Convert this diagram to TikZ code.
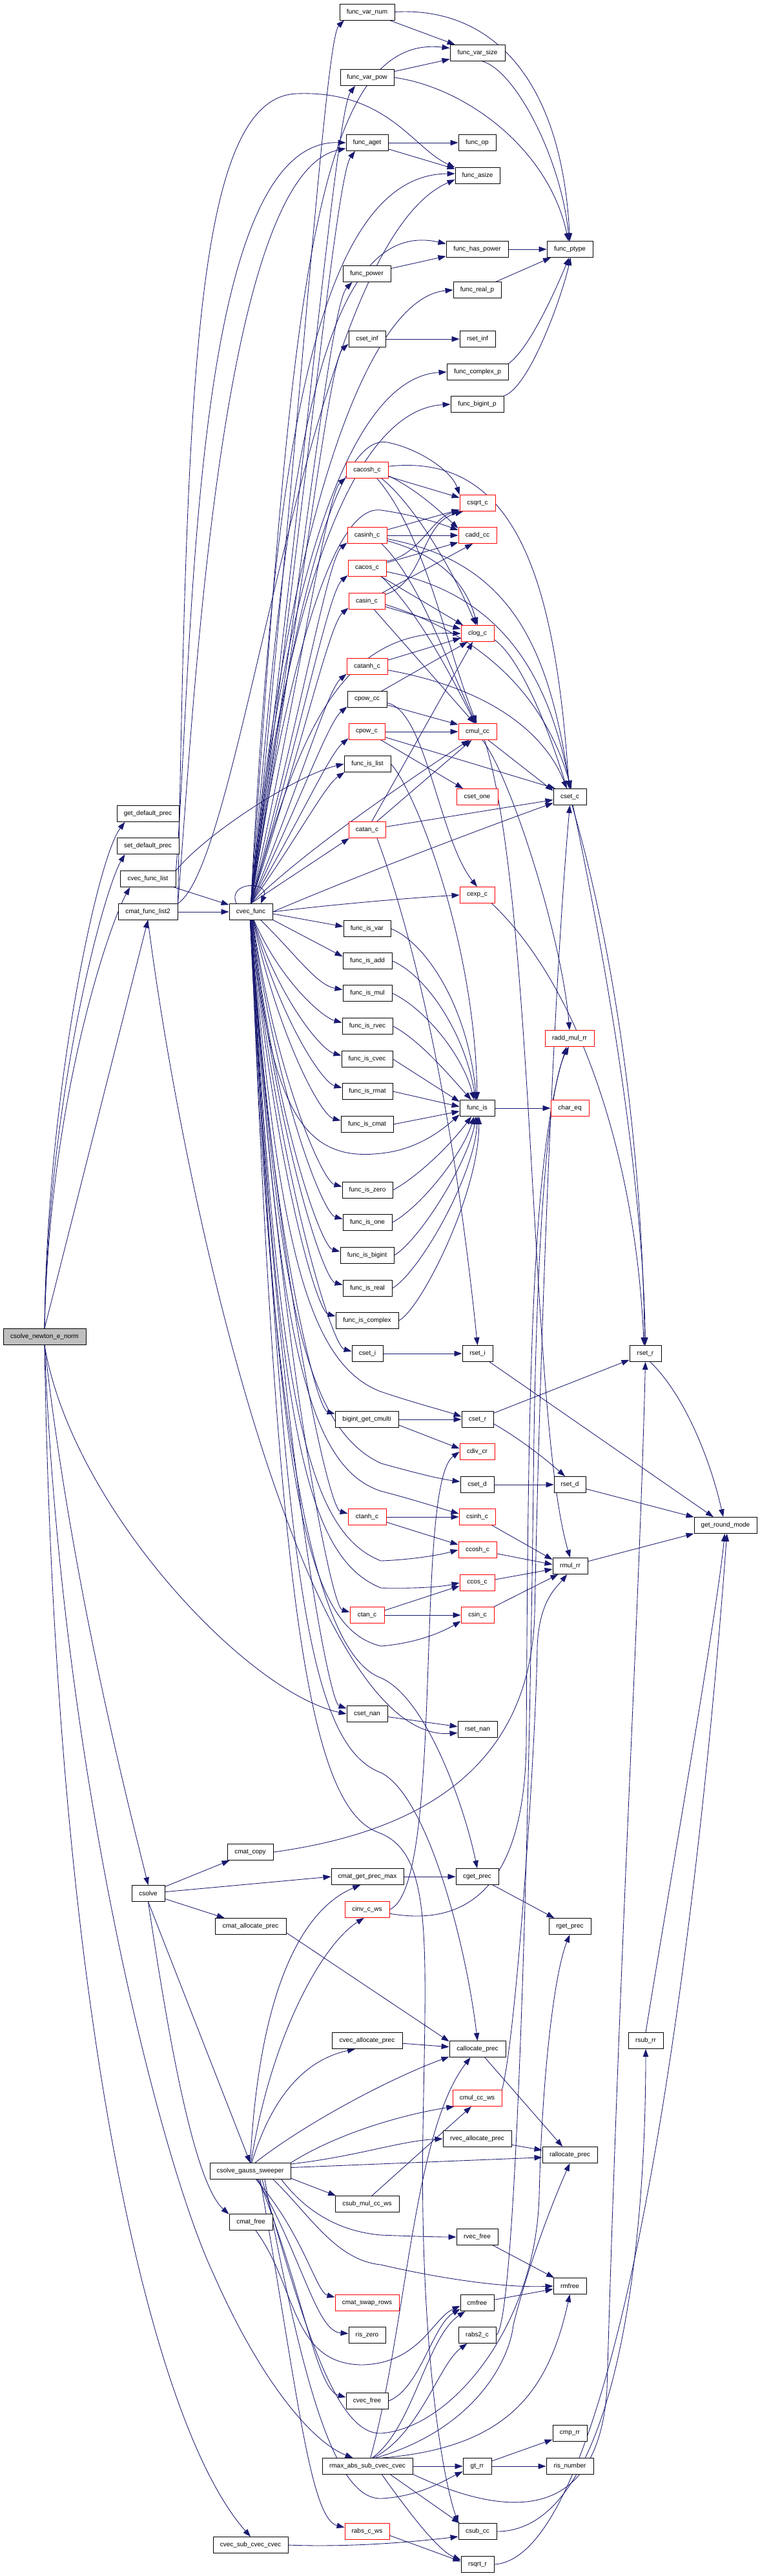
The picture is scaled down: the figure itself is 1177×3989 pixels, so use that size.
\documentclass[tikz,border=0pt]{standalone}
\usepackage{fontspec}
\setmainfont{Liberation Sans}
\usetikzlibrary{arrows.meta,calc}
\definecolor{eb}{HTML}{191970}
\definecolor{rootg}{HTML}{BFBFBF}
\pgfdeclarelayer{bg}
\pgfsetlayers{bg,main}
\newcommand\nn[6]{\node[#1,minimum width=#5pt] (#2) at (#3,#4) {#6};}
\newcommand\fan[3]{\draw[e] (#1) .. controls ($(#1)!0.5!(#2)$) and ($(#2)+#3$) .. (#2);}
\newcommand\dfan[4]{\draw[e] (#1) .. controls ($(#1)!0.6!(#2)+#4$) and ($(#2)+#3$) .. (#2);}
\begin{document}
\begin{tikzpicture}[x=1pt,y=-1pt,
  nb/.style={draw=black,line width=0.9pt,fill=white,minimum height=25pt,inner sep=0pt,font=\fontsize{10}{12}\selectfont},
  nr/.style={nb,draw=red},
  ng/.style={nb,fill=rootg},
  e/.style={draw=eb,line width=0.85pt,-{Triangle[length=12pt,width=8.5pt]}}]
\path[use as bounding box] (0,0) rectangle (1177,3989);
% ---- nodes
\nn{ng}{cn}{69}{2070}{128}{csolve\_newton\_e\_norm}
\nn{nb}{gdp}{229}{1260}{96}{get\_default\_prec}
\nn{nb}{sdp}{229}{1310}{96}{set\_default\_prec}
\nn{nb}{cfl}{229}{1361}{86}{cvec\_func\_list}
\nn{nb}{cml}{229}{1412}{92}{cmat\_func\_list2}
\nn{nb}{csolve}{229.5}{2932}{51}{csolve}
\nn{nb}{cf}{388.5}{1412}{67}{cvec\_func}
\nn{nb}{cmcopy}{387.5}{2868}{71}{cmat\_copy}
\nn{nb}{cmalloc}{388}{2983}{110}{cmat\_allocate\_prec}
\nn{nb}{gs}{387.5}{3362}{125}{csolve\_gauss\_sweeper}
\nn{nb}{cmatfree}{388.5}{3441}{67}{cmat\_free}
\nn{nb}{cvsub}{388}{3941}{116}{cvec\_sub\_cvec\_cvec}
\nn{nb}{fvn}{568.5}{18.5}{85}{func\_var\_num}
\nn{nb}{fvp}{568.5}{120}{83}{func\_var\_pow}
\nn{nb}{faget}{568.5}{221}{65}{func\_aget}
\nn{nb}{fpower}{568}{424}{74}{func\_power}
\nn{nb}{csetinf}{568.5}{525}{57}{cset\_inf}
\nn{nr}{cacosh}{568.5}{728}{65}{cacosh\_c}
\nn{nr}{casinh}{568.5}{829}{61}{casinh\_c}
\nn{nr}{cacos}{568.5}{880}{59}{cacos\_c}
\nn{nr}{casin}{568}{931}{56}{casin\_c}
\nn{nr}{catanh}{568.5}{1032}{63}{catanh\_c}
\nn{nb}{cpowcc}{568.5}{1083}{61}{cpow\_cc}
\nn{nr}{cpowc}{568}{1133}{56}{cpow\_c}
\nn{nb}{fislist}{569}{1183}{72}{func\_is\_list}
\nn{nr}{catan}{568.5}{1285}{57}{catan\_c}
\nn{nb}{fisvar}{568.5}{1438}{73}{func\_is\_var}
\nn{nb}{fisadd}{569}{1488}{76}{func\_is\_add}
\nn{nb}{fismul}{569}{1538}{76}{func\_is\_mul}
\nn{nb}{fisrvec}{569}{1589}{78}{func\_is\_rvec}
\nn{nb}{fiscvec}{568.5}{1640}{79}{func\_is\_cvec}
\nn{nb}{fisrmat}{569}{1690}{78}{func\_is\_rmat}
\nn{nb}{fiscmat}{568.5}{1741}{81}{func\_is\_cmat}
\nn{nb}{fiszero}{569}{1843}{78}{func\_is\_zero}
\nn{nb}{fisone}{569}{1893}{76}{func\_is\_one}
\nn{nb}{fisbigint}{568.5}{1944}{83}{func\_is\_bigint}
\nn{nb}{fisreal}{569}{1995}{76}{func\_is\_real}
\nn{nb}{fiscomplex}{568.5}{2045}{97}{func\_is\_complex}
\nn{nb}{cseti}{569}{2096}{48}{cset\_i}
\nn{nb}{bigint}{568}{2198}{98}{bigint\_get\_cmulti}
\nn{nr}{ctanh}{568.5}{2349}{59}{ctanh\_c}
\nn{nr}{ctan}{568.5}{2501}{53}{ctan\_c}
\nn{nb}{csetnan}{568.5}{2654}{63}{cset\_nan}
\nn{nb}{cmgpm}{569}{2906}{112}{cmat\_get\_prec\_max}
\nn{nr}{cinvws}{568.5}{2957}{69}{cinv\_c\_ws}
\nn{nb}{cvalloc}{568.5}{3160}{109}{cvec\_allocate\_prec}
\nn{nb}{csubmulws}{568.5}{3413}{99}{csub\_mul\_cc\_ws}
\nn{nr}{cmswap}{568.5}{3566}{99}{cmat\_swap\_rows}
\nn{nb}{riszero}{568.5}{3616}{57}{ris\_zero}
\nn{nb}{cvfree}{568.5}{3718}{65}{cvec\_free}
\nn{nb}{rmaxabs}{569}{3819}{140}{rmax\_abs\_sub\_cvec\_cvec}
\nn{nr}{rabscws}{568.5}{3920}{69}{rabs\_c\_ws}
\nn{nb}{fvs}{739.5}{82}{85}{func\_var\_size}
\nn{nb}{fop}{739}{221}{58}{func\_op}
\nn{nb}{fasize}{739.5}{272}{69}{func\_asize}
\nn{nb}{fhaspow}{739}{386}{96}{func\_has\_power}
\nn{nb}{frealp}{739}{449}{74}{func\_real\_p}
\nn{nb}{rsetinf}{739.5}{525}{55}{rset\_inf}
\nn{nb}{fcomplexp}{739.5}{576}{95}{func\_complex\_p}
\nn{nb}{fbigintp}{739}{626}{82}{func\_bigint\_p}
\nn{nr}{csqrt}{739.5}{779}{55}{csqrt\_c}
\nn{nr}{caddcc}{739.5}{829}{59}{cadd\_cc}
\nn{nr}{clog}{739.5}{981}{51}{clog\_c}
\nn{nr}{cmulcc}{739.5}{1133}{59}{cmul\_cc}
\nn{nr}{csetone}{739}{1234}{64}{cset\_one}
\nn{nr}{cexp}{739}{1386}{54}{cexp\_c}
\nn{nb}{fis}{739}{1716}{54}{func\_is}
\nn{nb}{rseti}{739.5}{2096}{47}{rset\_i}
\nn{nb}{csetr}{739.5}{2198}{49}{cset\_r}
\nn{nr}{cdivcr}{739}{2248}{54}{cdiv\_cr}
\nn{nb}{csetd}{739}{2299}{52}{cset\_d}
\nn{nr}{csinh}{739}{2349}{56}{csinh\_c}
\nn{nr}{ccosh}{739.5}{2400}{59}{ccosh\_c}
\nn{nr}{ccos}{739}{2451}{54}{ccos\_c}
\nn{nr}{csin}{739.5}{2501}{51}{csin\_c}
\nn{nb}{rsetnan}{739.5}{2678}{61}{rset\_nan}
\nn{nb}{cgetprec}{739}{2906}{66}{cget\_prec}
\nn{nb}{calloc}{739.5}{3173}{87}{callocate\_prec}
\nn{nr}{cmulccws}{739}{3249}{76}{cmul\_cc\_ws}
\nn{nb}{rvalloc}{739}{3312}{106}{rvec\_allocate\_prec}
\nn{nb}{rvfree}{739}{3464}{64}{rvec\_free}
\nn{nb}{cmfree}{739}{3566}{52}{cmfree}
\nn{nb}{rabs2}{739}{3616}{58}{rabs2\_c}
\nn{nb}{gtrr}{739}{3819}{44}{gt\_rr}
\nn{nb}{csubcc}{739.5}{3920}{59}{csub\_cc}
\nn{nb}{rsqrt}{739.5}{3971}{51}{rsqrt\_r}
\nn{nb}{fptype}{882.5}{386}{71}{func\_ptype}
\nn{nb}{csetc}{882.5}{1234}{51}{cset\_c}
\nn{nr}{raddmul}{882}{1608}{76}{radd\_mul\_rr}
\nn{nr}{chareq}{882.5}{1716}{59}{char\_eq}
\nn{nb}{rsetd}{882.5}{2299}{49}{rset\_d}
\nn{nb}{rmulrr}{883}{2425}{54}{rmul\_rr}
\nn{nb}{rgetprec}{882.5}{2983}{65}{rget\_prec}
\nn{nb}{ralloc}{882.5}{3337}{85}{rallocate\_prec}
\nn{nb}{rmfree}{882.5}{3540}{51}{rmfree}
\nn{nb}{cmprr}{882.5}{3768}{53}{cmp\_rr}
\nn{nb}{risnum}{882.5}{3819}{73}{ris\_number}
\nn{nb}{rsetr}{999.5}{2096}{49}{rset\_r}
\nn{nb}{rsubrr}{1000}{3160}{54}{rsub\_rr}
\nn{nb}{grm}{1123.5}{2362}{97}{get\_round\_mode}
% ---- edges
\begin{pgfonlayer}{bg}
\fill[white] (0,0) rectangle (1177,3989);
% root
\draw[e] (cn.north) .. controls (72,1700) and (150,1330) .. (gdp.200);
\draw[e] (cn.north) .. controls (74,1700) and (160,1380) .. (sdp.200);
\draw[e] (cn.north) .. controls (76,1700) and (170,1430) .. (cfl.205);
\draw[e] (cn.north) -- (cml.south);
\draw[e] (cn.south) .. controls (110,2330) and (380,2620) .. (csetnan.west);
\draw[e] (cn.south) .. controls (110,2450) and (200,2800) .. (csolve.north);
\draw[e] (cn.south) .. controls (85,3100) and (230,3750) .. (cvsub.north);
\draw[e] (cn.south) .. controls (95,2750) and (250,3350) .. (330,3520) .. controls (400,3680) and (480,3780) .. (rmaxabs.150);
% lists
\draw[e] (cfl) -- (cf);
\draw[e] (cml) -- (cf);
\draw[e] (cfl.north east) .. controls (320,1290) and (460,1200) .. (fislist.west);
\draw[e] (cfl.north east) .. controls (300,1000) and (295,215) .. (faget.west);
\draw[e] (cml.north east) .. controls (300,1100) and (340,270) .. (faget.195);
\draw[e] (cml.north east) .. controls (290,600) and (300,150) .. (460,145) .. controls (600,140) and (640,230) .. (fasize.160);
\draw[e] (cml.north east) .. controls (380,1330) and (470,380) .. (fasize.190);
\draw[e] (cml.south) .. controls (290,1900) and (480,2700) .. (rsetnan.190);
% cvec_func self loop
\draw[e] (cf.150) .. controls +(-15,-35) and +(15,-35) .. (cf.40);
% cvec_func up
\fan{cf.north}{fvn.200}{(-30,30)}
\draw[e] (cf.north) .. controls (450,500) and (480,50) .. (fvs.170);
\fan{cf.north}{fvp.215}{(-30,40)}
\fan{cf.north}{faget.215}{(-30,40)}
\draw[e] (cf.north) .. controls (420,800) and (470,270) .. (fasize.175);
\fan{cf.north}{fpower.210}{(-35,35)}
\draw[e] (cf.north) .. controls (440,800) and (480,330) .. (fhaspow.170);
\draw[e] (cf.north) .. controls (440,850) and (560,462) .. (frealp.west);
\fan{cf.north}{csetinf.195}{(-30,25)}
\draw[e] (cf.north) .. controls (440,900) and (540,585) .. (fcomplexp.west);
\draw[e] (cf.north) .. controls (440,950) and (540,635) .. (fbigintp.west);
\draw[e] (cf.north) .. controls (450,950) and (520,670) .. (600,685) .. controls (650,695) and (700,730) .. (csqrt.north west);
\fan{cf.north}{cacosh.200}{(-30,25)}
\draw[e] (cf.north) .. controls (450,1000) and (520,780) .. (590,790) .. controls (640,797) and (680,810) .. (caddcc.165);
\fan{cf.north}{casinh.200}{(-30,25)}
\fan{cf.north}{cacos.200}{(-30,25)}
\fan{cf.north}{casin.200}{(-30,25)}
\draw[e] (cf.north) .. controls (460,1150) and (520,975) .. (clog.west);
\fan{cf.north}{catanh.200}{(-30,25)}
\fan{cf.north}{cpowcc.200}{(-30,25)}
\fan{cf.north}{cpowc.200}{(-30,25)}
\fan{cf.north}{fislist.200}{(-30,20)}
\draw[e] (cf.north) .. controls (470,1320) and (600,1230) .. (cmulcc.225);
\fan{cf.north}{catan.205}{(-30,20)}
\draw[e] (cf.east) .. controls (520,1370) and (700,1300) .. (csetc.200);
\draw[e] (cf.east) .. controls (520,1400) and (640,1390) .. (cexp.west);
% cvec_func down
\draw[e] (cf.-5) -- (fisvar.175);
\draw[e] (cf.-20) -- (fisadd.170);
\draw[e] (cf.-40) .. controls (460,1480) and (490,1525) .. (fismul.172);
\dfan{cf.-70}{fisrvec.172}{(-30,-8)}{(-40,0)}
\dfan{cf.-72}{fiscvec.172}{(-30,-8)}{(-40,0)}
\dfan{cf.-74}{fisrmat.172}{(-30,-8)}{(-40,0)}
\dfan{cf.-76}{fiscmat.172}{(-30,-8)}{(-40,0)}
\draw[e] (cf.south) .. controls (420,1720) and (470,1800) .. (590,1786) .. controls (650,1780) and (690,1745) .. (fis.200);
\dfan{cf.-78}{fiszero.172}{(-30,-8)}{(-45,0)}
\dfan{cf.-80}{fisone.172}{(-30,-8)}{(-45,0)}
\dfan{cf.-82}{fisbigint.172}{(-30,-8)}{(-45,0)}
\dfan{cf.-84}{fisreal.172}{(-30,-8)}{(-45,0)}
\dfan{cf.-86}{fiscomplex.172}{(-30,-8)}{(-45,0)}
\dfan{cf.-88}{cseti.172}{(-30,-8)}{(-50,0)}
\draw[e] (cf.south) .. controls (430,1900) and (470,2110) .. (590,2155) .. controls (640,2172) and (690,2185) .. (csetr.170);
\dfan{cf.-90}{bigint.170}{(-30,-8)}{(-50,0)}
\draw[e] (cf.south) .. controls (430,2000) and (470,2210) .. (590,2266) .. controls (640,2280) and (680,2290) .. (csetd.170);
\draw[e] (cf.south) .. controls (430,2050) and (470,2270) .. (590,2309) .. controls (640,2322) and (680,2335) .. (csinh.170);
\dfan{cf.-92}{ctanh.170}{(-30,-8)}{(-50,0)}
\draw[e] (cf.south) .. controls (430,2150) and (470,2370) .. (590,2417) .. controls (640,2415) and (680,2408) .. (ccosh.west);
\draw[e] (cf.south) .. controls (430,2200) and (470,2410) .. (590,2459) .. controls (640,2460) and (680,2458) .. (ccos.west);
\dfan{cf.-94}{ctan.170}{(-30,-8)}{(-50,0)}
\draw[e] (cf.south) .. controls (430,2300) and (470,2520) .. (590,2549) .. controls (640,2545) and (680,2530) .. (csin.200);
\draw[e] (cf.south) .. controls (420,2300) and (500,2560) .. (587,2597) .. controls (660,2625) and (720,2800) .. (cgetprec.north);
\dfan{cf.-96}{csetnan.165}{(-30,-10)}{(-55,0)}
\draw[e] (cf.south) .. controls (440,2400) and (470,2700) .. (590,2745) .. controls (660,2780) and (720,3000) .. (calloc.north);
\draw[e] (cf.south) .. controls (430,2500) and (480,2800) .. (587,2838) .. controls (670,2870) and (660,3000) .. (655,3300) .. controls (650,3600) and (680,3820) .. (csubcc.north west);
% func group -> ptype etc
\draw[e] (fvn) -- (fvs);
\draw[e] (fvn.east) .. controls (760,10) and (870,120) .. (fptype.north);
\draw[e] (fvp) -- (fvs);
\draw[e] (fvp.east) .. controls (720,135) and (850,230) .. (fptype.100);
\draw[e] (fvs.-60) .. controls (800,110) and (870,250) .. (fptype.95);
\draw[e] (faget) -- (fop);
\draw[e] (faget) -- (fasize);
\draw[e] (fpower) -- (fhaspow);
\draw[e] (fhaspow) -- (fptype);
\draw[e] (frealp) -- (fptype);
\draw[e] (fcomplexp.north east) .. controls (820,540) and (860,450) .. (fptype.-95);
\draw[e] (fbigintp.north east) .. controls (820,600) and (870,460) .. (fptype.-85);
\draw[e] (csetinf) -- (rsetinf);
% trig cluster
\draw[e] (cacosh) -- (csqrt);
\draw[e] (cacosh.-15) .. controls (650,760) and (690,800) .. (caddcc.160);
\draw[e] (cacosh.-30) .. controls (640,780) and (700,880) .. (clog.100);
\draw[e] (cacosh.-40) .. controls (660,830) and (690,1000) .. (cmulcc.95);
\draw[e] (cacosh.10) .. controls (800,700) and (860,900) .. (csetc.95);
\draw[e] (casinh) -- (csqrt.200);
\draw[e] (casinh) -- (caddcc);
\draw[e] (casinh.-15) .. controls (680,860) and (720,900) .. (clog.north);
\draw[e] (casinh.-30) .. controls (650,900) and (690,1020) .. (cmulcc.100);
\draw[e] (casinh.-10) .. controls (790,870) and (850,1000) .. (csetc.north);
\draw[e] (cacos.20) .. controls (650,860) and (670,800) .. (csqrt.205);
\draw[e] (cacos) -- (caddcc.200);
\draw[e] (cacos) -- (clog.150);
\draw[e] (cacos.-30) .. controls (650,950) and (700,1050) .. (cmulcc.105);
\draw[e] (cacos.-10) .. controls (780,920) and (850,1050) .. (csetc.85);
\draw[e] (casin.20) .. controls (660,900) and (650,810) .. (csqrt.210);
\draw[e] (casin) -- (caddcc.240);
\draw[e] (casin) -- (clog.165);
\draw[e] (casin) -- (cmulcc.110);
\draw[e] (casin.-10) .. controls (770,990) and (850,1100) .. (csetc.80);
\draw[e] (catanh) -- (clog.195);
\draw[e] (catanh.-10) .. controls (780,1070) and (850,1150) .. (csetc.110);
\draw[e] (cpowcc) -- (clog.220);
\draw[e] (cpowcc) -- (cmulcc.160);
\draw[e] (cpowcc.-10) .. controls (660,1100) and (680,1300) .. (cexp.north);
\draw[e] (cpowc) -- (cmulcc);
\draw[e] (cpowc) -- (csetone);
\draw[e] (cpowc) -- (csetc.150);
\draw[e] (catan) -- (clog.240);
\draw[e] (catan) -- (cmulcc.235);
\draw[e] (catan) -- (csetc.190);
\draw[e] (catan.-40) .. controls (640,1450) and (700,1700) .. (rseti.north);
\draw[e] (clog.-20) .. controls (850,1050) and (990,1500) .. (rsetr.95);
\draw[e] (cmulcc) -- (csetc.160);
\draw[e] (cmulcc.-60) .. controls (790,1200) and (870,1450) .. (raddmul.north);
\draw[e] (cmulcc.-50) .. controls (830,1400) and (820,2200) .. (rmulrr.north);
\draw[e] (csetc.-70) .. controls (930,1450) and (995,1800) .. (rsetr.north);
\draw[e] (cexp.-30) .. controls (900,1530) and (985,1800) .. (rsetr.100);
% func_is
\draw[e] (fislist.east) .. controls (640,1220) and (735,1450) .. (fis.north);
\draw[e] (fisvar.east) .. controls (660,1460) and (725,1560) .. (fis.95);
\draw[e] (fisadd.east) .. controls (660,1510) and (720,1600) .. (fis.100);
\draw[e] (fismul.east) .. controls (655,1560) and (715,1630) .. (fis.110);
\draw[e] (fisrvec.east) .. controls (650,1610) and (700,1670) .. (fis.125);
\draw[e] (fiscvec.east) -- (fis.160);
\draw[e] (fisrmat.east) -- (fis.175);
\draw[e] (fiscmat.east) -- (fis.190);
\draw[e] (fiszero.east) .. controls (650,1820) and (700,1770) .. (fis.235);
\draw[e] (fisone.east) .. controls (650,1870) and (715,1790) .. (fis.250);
\draw[e] (fisbigint.east) .. controls (650,1920) and (725,1800) .. (fis.262);
\draw[e] (fisreal.east) .. controls (650,1970) and (735,1820) .. (fis.272);
\draw[e] (fiscomplex.east) .. controls (650,2030) and (742,1850) .. (fis.282);
\draw[e] (fis) -- (chareq);
% lower middle
\draw[e] (cseti) -- (rseti);
\draw[e] (rseti) -- (grm);
\draw[e] (bigint) -- (csetr);
\draw[e] (bigint.-10) -- (cdivcr.170);
\draw[e] (csetr) -- (rsetr);
\draw[e] (csetr.-15) .. controls (800,2225) and (840,2255) .. (rsetd.120);
\draw[e] (csetd) -- (rsetd);
\draw[e] (rsetd) -- (grm);
\draw[e] (rsetr.-60) .. controls (1060,2160) and (1100,2260) .. (grm.105);
\draw[e] (ctanh) -- (csinh);
\draw[e] (ctanh.-15) -- (ccosh.165);
\draw[e] (ctan.15) -- (ccos.190);
\draw[e] (ctan) -- (csin);
\draw[e] (csinh) -- (rmulrr.160);
\draw[e] (ccosh) -- (rmulrr.175);
\draw[e] (ccos) -- (rmulrr.190);
\draw[e] (csin) -- (rmulrr.215);
\draw[e] (rmulrr) -- (grm);
\draw[e] (csetnan) -- (rsetnan);
% csolve
\draw[e] (csolve) -- (cmcopy);
\draw[e] (csolve) -- (cmgpm.west);
\draw[e] (csolve) -- (cmalloc);
\draw[e] (csolve.south) -- (gs.north);
\draw[e] (csolve.south) .. controls (260,3150) and (300,3380) .. (cmatfree.160);
\draw[e] (cmgpm) -- (cgetprec);
\draw[e] (cgetprec) -- (rgetprec);
\draw[e] (cmalloc.-10) -- (calloc.165);
\draw[e] (cmcopy.east) .. controls (700,2830) and (822,2700) .. (828,2500) .. controls (838,2000) and (860,1500) .. (csetc.south);
\draw[e] (cinvws.east) .. controls (690,2920) and (640,2300) .. (cdivcr.west);
\draw[e] (cinvws.-10) .. controls (700,2980) and (812,2950) .. (815,2700) .. controls (818,2200) and (820,1800) .. (raddmul.250);
% gauss sweeper
\draw[e] (gs.north) .. controls (400,3100) and (460,2960) .. (cmgpm.230);
\draw[e] (gs.85) .. controls (420,3150) and (500,3010) .. (cinvws.250);
\draw[e] (gs.80) .. controls (420,3250) and (470,3190) .. (cvalloc.215);
\draw[e] (gs.60) .. controls (470,3290) and (600,3220) .. (calloc.195);
\draw[e] (gs.north east) .. controls (520,3305) and (620,3275) .. (cmulccws.200);
\draw[e] (gs.10) .. controls (550,3340) and (620,3315) .. (rvalloc.west);
\draw[e] (gs.5) -- (ralloc.185);
\draw[e] (gs.-10) -- (csubmulws.165);
\draw[e] (gs.-15) .. controls (470,3420) and (520,3455) .. (590,3461) .. controls (640,3463) and (680,3464) .. (rvfree.west);
\draw[e] (gs.-20) .. controls (480,3430) and (520,3500) .. (590,3507) .. controls (680,3528) and (780,3543) .. (rmfree.west);
\draw[e] (gs.-55) .. controls (470,3460) and (490,3550) .. (cmswap.170);
\draw[e] (gs.-50) .. controls (470,3500) and (490,3610) .. (riszero.175);
\draw[e] (gs.-45) .. controls (470,3550) and (490,3700) .. (cvfree.170);
\draw[e] (gs.-35) .. controls (470,3600) and (520,3770) .. (590,3768) .. controls (700,3760) and (830,3600) .. (835,3400) .. controls (840,3200) and (860,3050) .. (rgetprec.south);
\draw[e] (gs.-30) .. controls (470,3700) and (520,3870) .. (590,3869) .. controls (650,3866) and (690,3840) .. (gtrr.200);
\draw[e] (gs.-40) .. controls (460,3700) and (480,3900) .. (rabscws.170);
\draw[e] (cvalloc) -- (calloc);
\draw[e] (calloc) -- (ralloc);
\draw[e] (rvalloc) -- (ralloc);
\draw[e] (csubmulws.60) -- (cmulccws.235);
\draw[e] (cmulccws.north east) .. controls (800,3150) and (830,2700) .. (832,2550) .. controls (835,2480) and (860,2460) .. (rmulrr.250);
\draw[e] (rvfree) -- (rmfree);
\draw[e] (cmfree) -- (rmfree);
\draw[e] (cmatfree.-60) .. controls (460,3540) and (450,3660) .. (560,3662) .. controls (650,3660) and (670,3590) .. (cmfree.190);
\draw[e] (cvfree.east) .. controls (650,3700) and (670,3600) .. (cmfree.200);
\draw[e] (rabs2.east) .. controls (800,3600) and (820,2800) .. (826,2300) .. controls (830,1900) and (850,1680) .. (raddmul.265);
% rmax
\draw[e] (rmaxabs.60) .. controls (640,3760) and (660,3620) .. (cmfree.215);
\draw[e] (rmaxabs.55) .. controls (650,3770) and (680,3660) .. (rabs2.220);
\draw[e] (rmaxabs.30) .. controls (790,3790) and (850,3700) .. (rmfree.south);
\draw[e] (rmaxabs.45) .. controls (740,3760) and (790,3650) .. (795,3600) .. controls (820,3500) and (860,3400) .. (ralloc.south);
\draw[e] (rmaxabs.70) .. controls (630,3600) and (640,3300) .. (calloc.230);
\draw[e] (rmaxabs) -- (gtrr);
\draw[e] (rmaxabs.-20) -- (csubcc.155);
\draw[e] (rmaxabs.-30) .. controls (640,3900) and (680,3950) .. (rsqrt.165);
\draw[e] (rmaxabs.-10) .. controls (850,3930) and (930,3850) .. (940,3700) .. controls (960,3000) and (990,2500) .. (rsetr.south);
\draw[e] (gtrr) -- (cmprr);
\draw[e] (gtrr) -- (risnum);
\draw[e] (cvsub.east) .. controls (550,3945) and (650,3935) .. (csubcc.195);
\draw[e] (rabscws.-10) -- (rsqrt.170);
\draw[e] (csubcc.east) .. controls (950,3920) and (1000,3500) .. (rsubrr.south);
\draw[e] (rsubrr.north) .. controls (1040,2900) and (1110,2500) .. (grm.-95);
\draw[e] (rsqrt.east) .. controls (960,3960) and (1080,3000) .. (grm.-80);
\end{pgfonlayer}
\end{tikzpicture}
\end{document}
